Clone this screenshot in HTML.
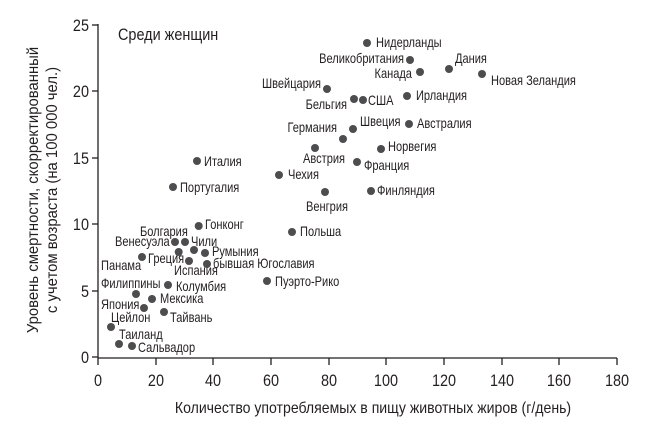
<!DOCTYPE html>
<html><head><meta charset="utf-8"><style>
html,body{margin:0;padding:0;background:#fff;}
svg text{font-family:"Liberation Sans Narrow","Liberation Sans",sans-serif;fill:#231f20;}
</style></head><body>
<svg width="660" height="426" viewBox="0 0 660 426" xmlns="http://www.w3.org/2000/svg">
<g stroke="#231f20" stroke-width="1.3" fill="none">
<line x1="98" y1="24" x2="98" y2="358"/>
<line x1="98" y1="358" x2="617" y2="358"/>
<line x1="92" y1="25" x2="98" y2="25"/><line x1="92" y1="91" x2="98" y2="91"/>
<line x1="92" y1="158" x2="98" y2="158"/><line x1="92" y1="224" x2="98" y2="224"/>
<line x1="92" y1="291" x2="98" y2="291"/><line x1="92" y1="357" x2="98" y2="357"/>
<line x1="98" y1="358" x2="98" y2="365"/><line x1="156" y1="358" x2="156" y2="365"/>
<line x1="213" y1="358" x2="213" y2="365"/><line x1="271" y1="358" x2="271" y2="365"/>
<line x1="329" y1="358" x2="329" y2="365"/><line x1="386" y1="358" x2="386" y2="365"/>
<line x1="444" y1="358" x2="444" y2="365"/><line x1="502" y1="358" x2="502" y2="365"/>
<line x1="559" y1="358" x2="559" y2="365"/><line x1="617" y1="358" x2="617" y2="365"/>
</g>
<g font-size="17" text-anchor="end" transform="scale(0.85,1)">
<text x="104.7" y="31">25</text><text x="104.7" y="97">20</text><text x="104.7" y="164">15</text>
<text x="104.7" y="230">10</text><text x="104.7" y="297">5</text><text x="104.7" y="363">0</text>
</g>
<g font-size="17" text-anchor="middle" transform="scale(0.85,1)">
<text x="115.3" y="386">0</text><text x="183.5" y="386">20</text><text x="250.6" y="386">40</text>
<text x="318.8" y="386">60</text><text x="387.1" y="386">80</text><text x="454.1" y="386">100</text>
<text x="522.4" y="386">120</text><text x="590.6" y="386">140</text><text x="657.6" y="386">160</text>
<text x="725.9" y="386">180</text>
</g>
<text transform="translate(373,413) scale(0.88,1)" font-size="16" text-anchor="middle">Количество употребляемых в пищу животных жиров (г/день)</text>
<text transform="translate(38,190) rotate(-90) scale(0.93,1)" font-size="16" text-anchor="middle">Уровень смертности, скорректированный</text>
<text transform="translate(57,190) rotate(-90) scale(0.93,1)" font-size="16" text-anchor="middle">с учетом возраста (на 100 000 чел.)</text>
<text transform="translate(118,40) scale(0.85,1)" font-size="17">Среди женщин</text>
<g fill="#4d4d4f">
<circle cx="198.7" cy="226" r="4"/><circle cx="292" cy="232" r="4"/>
<circle cx="175" cy="242" r="4"/><circle cx="185" cy="242" r="4"/>
<circle cx="178.7" cy="252" r="4"/><circle cx="194" cy="250" r="4"/><circle cx="205" cy="253" r="4"/>
<circle cx="142" cy="257" r="4"/><circle cx="189" cy="261" r="4"/><circle cx="207" cy="264" r="4"/>
<circle cx="267" cy="281" r="4"/><circle cx="168" cy="285" r="4"/>
<circle cx="136" cy="294" r="4"/><circle cx="152" cy="299" r="4"/><circle cx="144" cy="308" r="4"/>
<circle cx="164" cy="312" r="4"/><circle cx="111" cy="327" r="4"/><circle cx="119" cy="344" r="4"/>
<circle cx="132" cy="346" r="4"/>
<circle cx="367" cy="43" r="4"/><circle cx="410" cy="60" r="4"/><circle cx="420" cy="72" r="4"/>
<circle cx="449" cy="69" r="4"/><circle cx="482" cy="74" r="4"/><circle cx="327" cy="89" r="4"/>
<circle cx="354" cy="99" r="4"/><circle cx="363" cy="100" r="4"/><circle cx="407" cy="96" r="4"/>
<circle cx="353" cy="129" r="4"/><circle cx="409" cy="124" r="4"/><circle cx="343" cy="139" r="4"/>
<circle cx="315" cy="148" r="4"/><circle cx="381" cy="149" r="4"/><circle cx="357" cy="162" r="4"/>
<circle cx="279" cy="175" r="4"/><circle cx="371" cy="191" r="4"/><circle cx="325" cy="192" r="4"/>
<circle cx="197" cy="161" r="4"/><circle cx="173" cy="187" r="4"/>
</g>
<g font-size="13.5" transform="scale(0.82,1)">
<text x="458.5" y="47">Нидерланды</text>
<text x="492.7" y="63" text-anchor="end">Великобритания</text>
<text x="502.4" y="78" text-anchor="end">Канада</text>
<text x="554.9" y="63">Дания</text>
<text x="598.8" y="85">Новая Зеландия</text>
<text x="391.5" y="88" text-anchor="end">Швейцария</text>
<text x="423.2" y="109" text-anchor="end">Бельгия</text>
<text x="448.8" y="105">США</text>
<text x="507.3" y="100">Ирландия</text>
<text x="439" y="126">Швеция</text>
<text x="508.5" y="128">Австралия</text>
<text x="411" y="132" text-anchor="end">Германия</text>
<text x="369.5" y="163">Австрия</text>
<text x="473.2" y="151">Норвегия</text>
<text x="443.9" y="170">Франция</text>
<text x="351.2" y="179">Чехия</text>
<text x="459.8" y="195">Финляндия</text>
<text x="373.2" y="211">Венгрия</text>
<text x="248.8" y="166">Италия</text>
<text x="219.5" y="192">Португалия</text>
<text x="250" y="229">Гонконг</text>
<text x="365.9" y="236">Польша</text>
<text x="170.7" y="236">Болгария</text>
<text x="140.2" y="246">Венесуэла</text>
<text x="232.9" y="246">Чили</text>
<text x="258.5" y="256">Румыния</text>
<text x="180.5" y="263">Греция</text>
<text x="123.2" y="270">Панама</text>
<text x="212.2" y="275">Испания</text>
<text x="259.8" y="268">бывшая Югославия</text>
<text x="335.4" y="286">Пуэрто-Рико</text>
<text x="123.2" y="288">Филиппины</text>
<text x="214.6" y="291">Колумбия</text>
<text x="195.1" y="303">Мексика</text>
<text x="123.2" y="309">Япония</text>
<text x="135.4" y="322">Цейлон</text>
<text x="207.3" y="322">Тайвань</text>
<text x="145.1" y="339">Таиланд</text>
<text x="168.3" y="352">Сальвадор</text>
</g>
</svg>
</body></html>
